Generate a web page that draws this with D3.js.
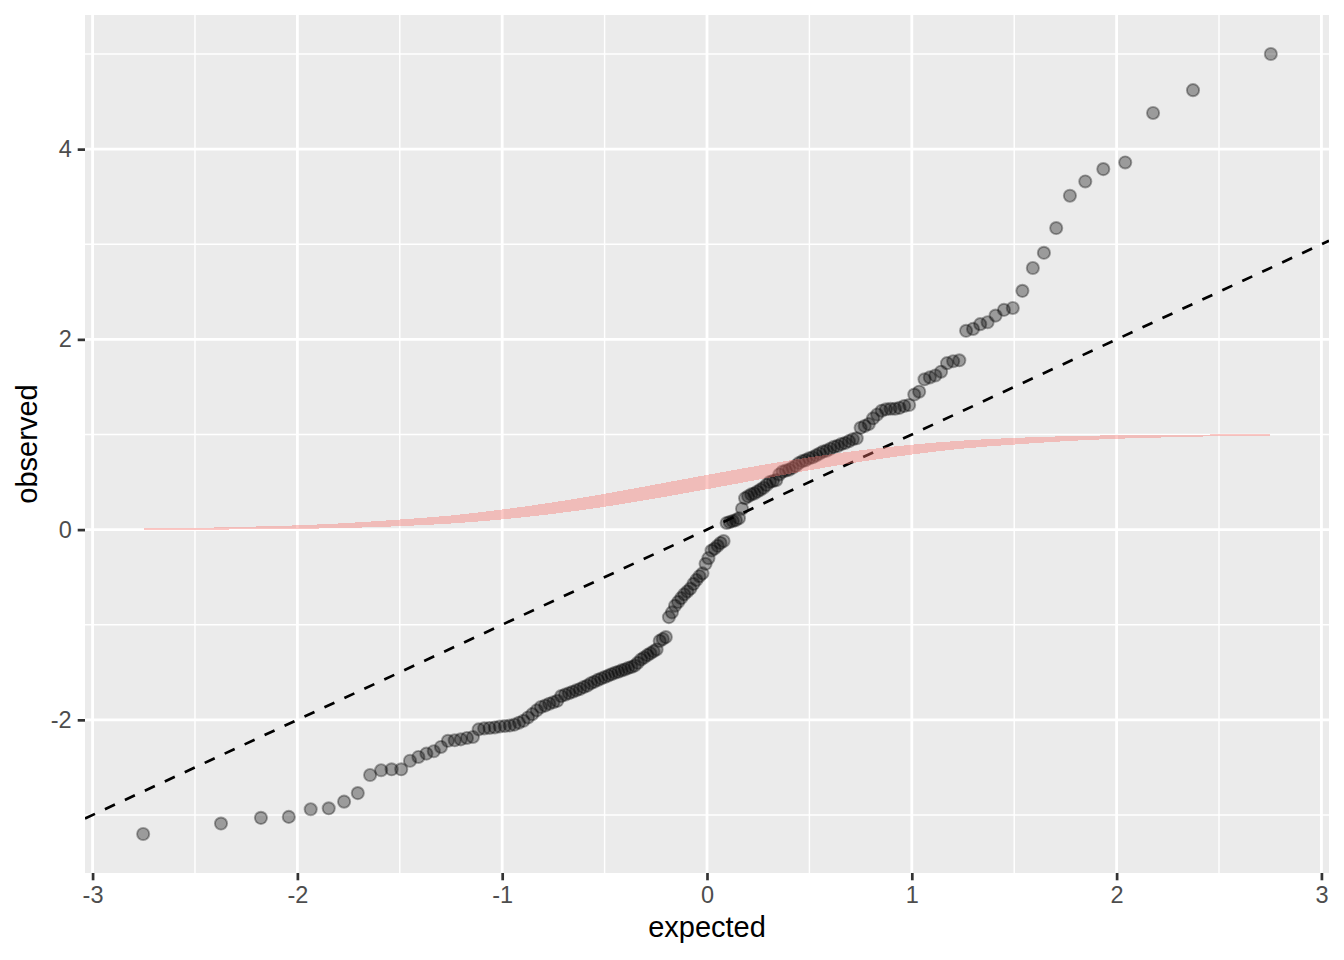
<!DOCTYPE html>
<html>
<head>
<meta charset="utf-8">
<script src="https://cdn.jsdelivr.net/npm/d3@7"></script>
<style>
  body { margin: 0; background: #ffffff; }
  text { font-family: "Liberation Sans", Arial, sans-serif; }
</style>
</head>
<body>
<script>
const width = 1344;
const height = 960;

//DATA - theoretical quantiles (expected) and sorted sample (observed)
const expected = [
  -2.753,-2.373,-2.178,-2.042,-1.935,-1.847,-1.772,-1.705,-1.645,-1.591,
  -1.540,-1.493,-1.450,-1.409,-1.370,-1.334,-1.299,-1.265,-1.232,-1.202,
  -1.172,-1.143,-1.115,-1.088,-1.062,-1.036,-1.012,-0.987,-0.963,-0.940,
  -0.918,-0.896,-0.874,-0.853,-0.831,-0.811,-0.790,-0.770,-0.750,-0.731,
  -0.712,-0.693,-0.674,-0.656,-0.638,-0.620,-0.602,-0.584,-0.567,-0.550,
  -0.533,-0.516,-0.499,-0.482,-0.466,-0.449,-0.433,-0.417,-0.401,-0.385,
  -0.369,-0.353,-0.338,-0.322,-0.307,-0.291,-0.276,-0.261,-0.246,-0.231,
  -0.216,-0.201,-0.186,-0.171,-0.156,-0.141,-0.126,-0.111,-0.096,-0.081,
  -0.066,-0.052,-0.037,-0.022,-0.007,
  0.007,0.022,0.037,0.052,0.066,0.081,0.096,0.111,0.126,0.141,
  0.156,0.171,0.186,0.201,0.216,0.231,0.246,0.261,0.276,0.291,
  0.307,0.322,0.338,0.353,0.369,0.385,0.401,0.417,0.433,0.449,
  0.466,0.482,0.499,0.516,0.533,0.550,0.567,0.584,0.602,0.620,
  0.638,0.656,0.674,0.693,0.712,0.731,0.750,0.770,0.790,0.811,
  0.831,0.853,0.874,0.896,0.918,0.940,0.963,0.987,1.012,1.036,
  1.062,1.088,1.115,1.143,1.172,1.202,1.232,1.265,1.299,1.334,
  1.370,1.409,1.450,1.493,1.540,1.591,1.645,1.705,1.772,1.847,
  1.935,2.042,2.178,2.373,2.753
];

const observed = [
  -3.20,-3.09,-3.03,-3.02,-2.94,-2.93,-2.86,-2.77,-2.58,-2.53,
  -2.52,-2.52,-2.43,-2.39,-2.355,-2.33,-2.285,-2.22,-2.215,-2.205,
  -2.19,-2.18,-2.10,-2.09,-2.085,-2.08,-2.07,-2.065,-2.06,-2.05,
  -2.03,-2.01,-1.975,-1.94,-1.90,-1.865,-1.85,-1.83,-1.815,-1.80,
  -1.75,-1.735,-1.72,-1.705,-1.69,-1.675,-1.655,-1.64,-1.615,-1.60,
  -1.58,-1.565,-1.55,-1.535,-1.52,-1.505,-1.495,-1.48,-1.47,-1.455,
  -1.445,-1.43,-1.40,-1.365,-1.345,-1.32,-1.30,-1.28,-1.26,-1.17,
  -1.15,-1.13,-0.92,-0.87,-0.80,-0.76,-0.72,-0.68,-0.65,-0.62,
  -0.57,-0.53,-0.49,-0.46,-0.36,-0.30,-0.22,-0.20,-0.17,-0.14,
  -0.12,0.07,0.08,0.09,0.10,0.12,0.22,0.33,0.35,0.37,
  0.38,0.40,0.42,0.44,0.47,0.50,0.51,0.52,0.58,0.61,
  0.62,0.63,0.65,0.67,0.70,0.72,0.73,0.75,0.76,0.78,
  0.80,0.82,0.83,0.85,0.87,0.88,0.90,0.91,0.93,0.95,
  0.96,1.07,1.09,1.11,1.17,1.21,1.25,1.265,1.27,1.27,
  1.28,1.30,1.31,1.42,1.45,1.58,1.60,1.62,1.66,1.75,
  1.77,1.78,2.09,2.11,2.16,2.18,2.25,2.31,2.33,2.51,
  2.75,2.91,3.17,3.51,3.66,3.79,3.86,4.38,4.62,5.00
];

//Pink band (lower / upper edge) read at a few x positions
const bandX     = [-2.75,-2.5,-2.25,-2.0,-1.75,-1.5,-1.25,-1.0,-0.75,-0.5,-0.25,0,0.25,0.5,0.75,1.0,1.25,1.5,1.75,2.0,2.25,2.5,2.75];
const bandLower = [0.000,0.000,0.002,0.008,0.018,0.036,0.064,0.107,0.166,0.240,0.328,0.425,0.525,0.624,0.713,0.789,0.852,0.894,0.930,0.955,0.970,0.982,0.988];
const bandUpper = [0.012,0.018,0.030,0.045,0.070,0.106,0.148,0.211,0.287,0.376,0.475,0.575,0.672,0.760,0.834,0.893,0.936,0.964,0.982,0.992,0.998,1.000,1.000];

//Reference line y = intercept + slope * x
const lineIntercept = 0;
const lineSlope = 1;

const xTicks = [-3, -2, -1, 0, 1, 2, 3];
const xMinor = [-2.5, -1.5, -0.5, 0.5, 1.5, 2.5];
const yTicks = [-2, 0, 2, 4];
const yMinor = [-3, -1, 1, 3, 5];

//Panel box
const panel = { left: 85, right: 1329, top: 15, bottom: 873 };

const svg = d3.select("body").append("svg")
    .attr("width", width)
    .attr("height", height);

const x = d3.scaleLinear()
    .domain([-3.037, 3.037])
    .range([panel.left, panel.right]);

const yExt = d3.extent(observed);
const yPad = (yExt[1] - yExt[0]) * 0.05;
const y = d3.scaleLinear()
    .domain([yExt[0] - yPad, yExt[1] + yPad])
    .range([panel.bottom, panel.top]);

//Panel background
svg.append("rect")
    .attr("x", panel.left)
    .attr("y", panel.top)
    .attr("width", panel.right - panel.left)
    .attr("height", panel.bottom - panel.top)
    .attr("fill", "#EBEBEB");

svg.append("clipPath")
    .attr("id", "panelClip")
  .append("rect")
    .attr("x", panel.left)
    .attr("y", panel.top)
    .attr("width", panel.right - panel.left)
    .attr("height", panel.bottom - panel.top);

//Grid lines
const grid = svg.append("g").attr("class", "grid");

grid.selectAll(".xminor").data(xMinor).join("line")
    .attr("x1", d => x(d)).attr("x2", d => x(d))
    .attr("y1", panel.top).attr("y2", panel.bottom)
    .attr("stroke", "#ffffff").attr("stroke-width", 1.4);

grid.selectAll(".yminor").data(yMinor).join("line")
    .attr("x1", panel.left).attr("x2", panel.right)
    .attr("y1", d => y(d)).attr("y2", d => y(d))
    .attr("stroke", "#ffffff").attr("stroke-width", 1.4);

grid.selectAll(".xmajor").data(xTicks).join("line")
    .attr("x1", d => x(d)).attr("x2", d => x(d))
    .attr("y1", panel.top).attr("y2", panel.bottom)
    .attr("stroke", "#ffffff").attr("stroke-width", 2.8);

grid.selectAll(".ymajor").data(yTicks).join("line")
    .attr("x1", panel.left).attr("x2", panel.right)
    .attr("y1", d => y(d)).attr("y2", d => y(d))
    .attr("stroke", "#ffffff").attr("stroke-width", 2.8);

const plot = svg.append("g").attr("clip-path", "url(#panelClip)");

//Points
const points = expected.map((e, i) => ({ e: e, o: observed[i] }));

plot.selectAll("circle").data(points).join("circle")
    .attr("cx", d => x(d.e))
    .attr("cy", d => y(d.o))
    .attr("r", 6.1)
    .attr("fill", "#000000")
    .attr("fill-opacity", 0.34)
    .attr("stroke", "#000000")
    .attr("stroke-opacity", 0.34)
    .attr("stroke-width", 1.9);

//Dashed reference line across the panel
const xd = x.domain();
plot.append("line")
    .attr("x1", x(xd[0]))
    .attr("y1", y(lineIntercept + lineSlope * xd[0]))
    .attr("x2", x(xd[1]))
    .attr("y2", y(lineIntercept + lineSlope * xd[1]))
    .attr("stroke", "#000000")
    .attr("stroke-width", 2.7)
    .attr("stroke-dasharray", "11,11");

//Pink band
const band = bandX.map((b, i) => ({ x: b, lo: bandLower[i], hi: bandUpper[i] }));
const area = d3.area()
    .x(d => x(d.x))
    .y0(d => y(d.lo))
    .y1(d => y(d.hi))
    .curve(d3.curveMonotoneX);

plot.append("path")
    .datum(band)
    .attr("d", area)
    .attr("fill", "#F8766D")
    .attr("fill-opacity", 0.4)
    .attr("shape-rendering", "crispEdges");

//Axes
const xAxis = svg.append("g")
    .attr("transform", `translate(0, ${panel.bottom})`)
    .call(d3.axisBottom(x).tickValues(xTicks).tickSize(7.3).tickPadding(6).tickFormat(d => String(d)));

const yAxis = svg.append("g")
    .attr("transform", `translate(${panel.left}, 0)`)
    .call(d3.axisLeft(y).tickValues(yTicks).tickSize(7.3).tickPadding(6).tickFormat(d => String(d)));

[xAxis, yAxis].forEach(ax => {
    ax.select(".domain").remove();
    ax.selectAll(".tick line").attr("stroke", "#333333").attr("stroke-width", 2.7);
    ax.selectAll(".tick text")
        .attr("fill", "#4D4D4D")
        .style("font-size", "23.5px");
});

//Axis titles
svg.append("text")
    .attr("x", (panel.left + panel.right) / 2)
    .attr("y", 937)
    .attr("text-anchor", "middle")
    .style("font-size", "29px")
    .style("fill", "#000000")
    .text("expected");

svg.append("text")
    .attr("transform", `translate(37, ${(panel.top + panel.bottom) / 2}) rotate(-90)`)
    .attr("text-anchor", "middle")
    .style("font-size", "29px")
    .style("fill", "#000000")
    .text("observed");
</script>
</body>
</html>
